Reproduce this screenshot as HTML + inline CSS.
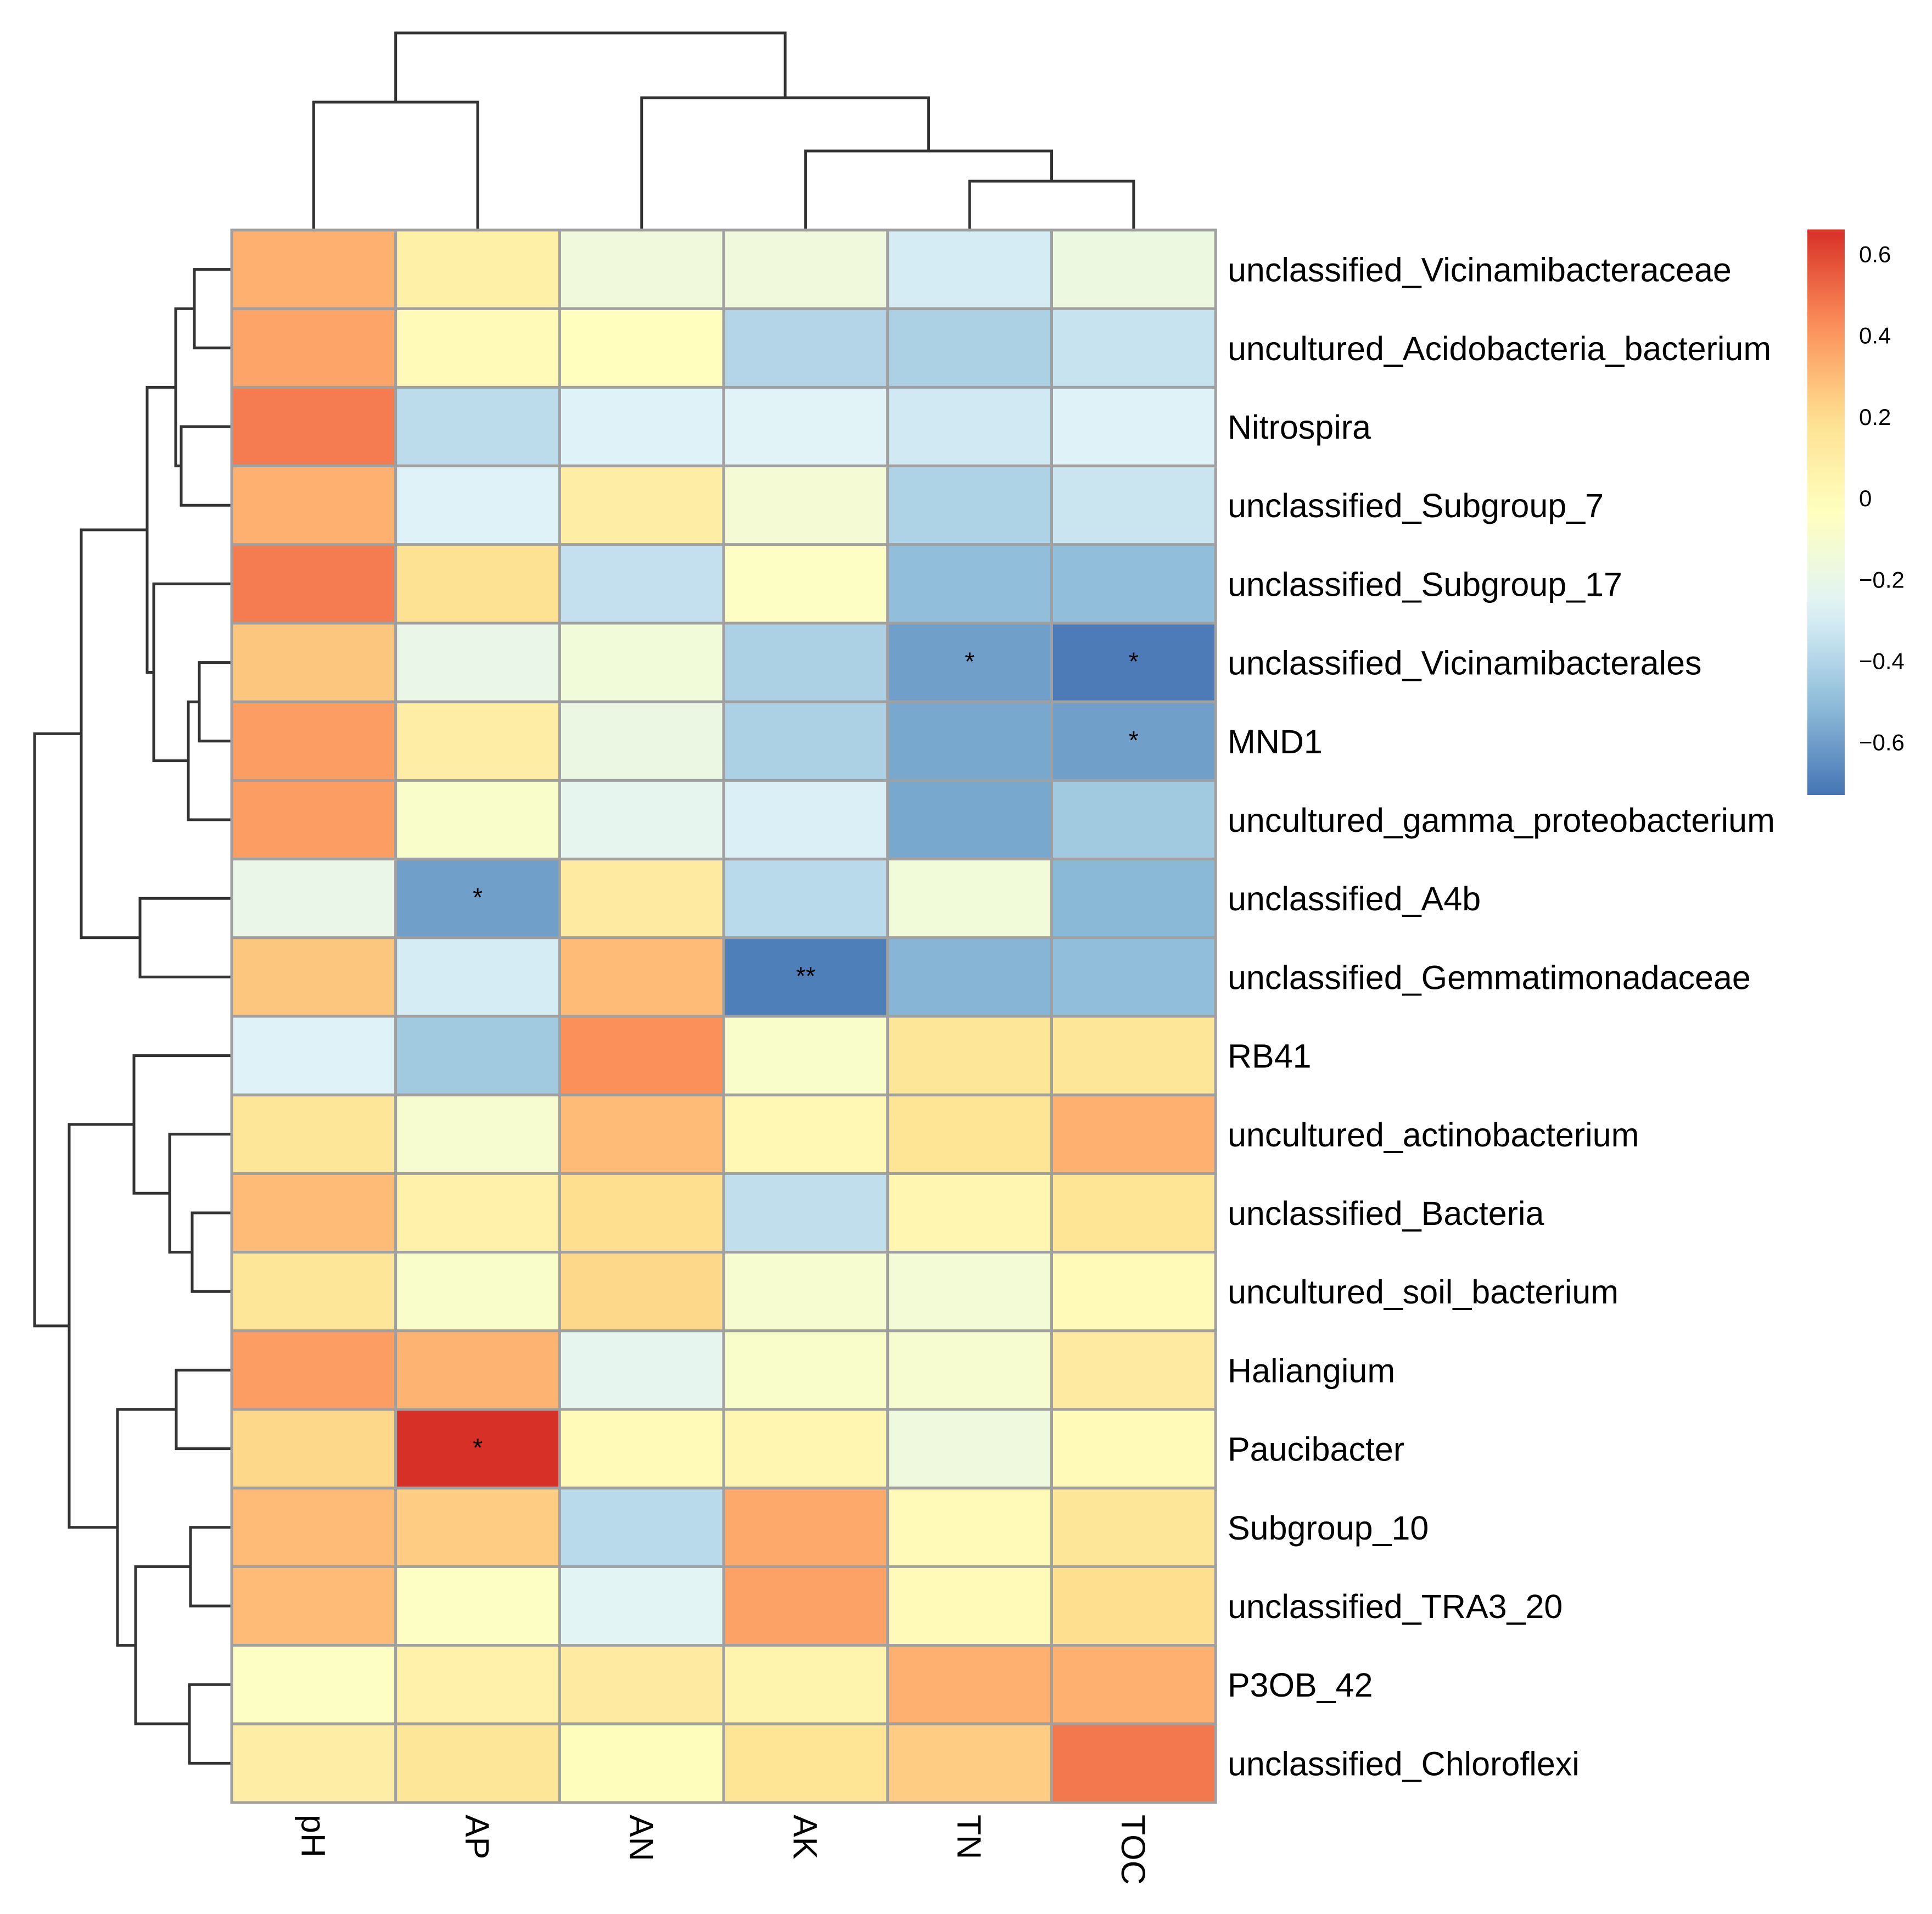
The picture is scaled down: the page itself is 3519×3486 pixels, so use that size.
<!DOCTYPE html>
<html>
<head>
<meta charset="utf-8">
<style>
  html, body { margin: 0; padding: 0; background: #ffffff; }
  svg { display: block; }
  text { font-family: "Liberation Sans", sans-serif; fill: #000; }
</style>
</head>
<body>
<svg id="chart" width="3519" height="3486" viewBox="0 0 3519 3486" xmlns="http://www.w3.org/2000/svg">
  <rect x="0" y="0" width="3519" height="3486" fill="#ffffff"/>
  <g id="col-dendro"></g>
  <g id="row-dendro"></g>
  <g id="cells"></g>
  <g id="stars"></g>
  <g id="row-labels"></g>
  <g id="col-labels"></g>
  <g id="legend"></g>
</svg>
<script>
const columns = ["pH", "AP", "AN", "AK", "TN", "TOC"];
const rows = [
  "unclassified_Vicinamibacteraceae",
  "uncultured_Acidobacteria_bacterium",
  "Nitrospira",
  "unclassified_Subgroup_7",
  "unclassified_Subgroup_17",
  "unclassified_Vicinamibacterales",
  "MND1",
  "uncultured_gamma_proteobacterium",
  "unclassified_A4b",
  "unclassified_Gemmatimonadaceae",
  "RB41",
  "uncultured_actinobacterium",
  "unclassified_Bacteria",
  "uncultured_soil_bacterium",
  "Haliangium",
  "Paucibacter",
  "Subgroup_10",
  "unclassified_TRA3_20",
  "P3OB_42",
  "unclassified_Chloroflexi"
];
const values = [
  [0.33, 0.08, -0.15, -0.15, -0.30, -0.17],
  [0.36, 0.00, -0.03, -0.40, -0.42, -0.34],
  [0.47, -0.37, -0.27, -0.26, -0.31, -0.27],
  [0.33, -0.27, 0.10, -0.12, -0.41, -0.33],
  [0.47, 0.18, -0.35, -0.05, -0.50, -0.50],
  [0.27, -0.20, -0.14, -0.42, -0.60, -0.71],
  [0.38, 0.10, -0.18, -0.42, -0.57, -0.60],
  [0.38, -0.08, -0.22, -0.28, -0.57, -0.45],
  [-0.20, -0.60, 0.12, -0.38, -0.14, -0.52],
  [0.27, -0.30, 0.30, -0.70, -0.53, -0.50],
  [-0.27, -0.45, 0.42, -0.08, 0.15, 0.15],
  [0.15, -0.10, 0.30, 0.02, 0.17, 0.33],
  [0.30, 0.07, 0.20, -0.36, 0.03, 0.17],
  [0.15, -0.08, 0.22, -0.10, -0.13, 0.00],
  [0.38, 0.32, -0.22, -0.08, -0.10, 0.12],
  [0.22, 0.66, 0.00, 0.03, -0.16, 0.00],
  [0.30, 0.25, -0.38, 0.35, 0.00, 0.15],
  [0.30, -0.05, -0.25, 0.37, 0.00, 0.20],
  [-0.05, 0.07, 0.12, 0.05, 0.33, 0.33],
  [0.10, 0.15, -0.02, 0.17, 0.25, 0.48]
];
const stars = [
  [5, 4, "*"], [5, 5, "*"], [6, 5, "*"], [8, 1, "*"], [9, 3, "**"], [15, 1, "*"]
];
const legendTicks = [0.6, 0.4, 0.2, 0, -0.2, -0.4, -0.6];
const legendTickLabels = ["0.6", "0.4", "0.2", "0", "\u22120.2", "\u22120.4", "\u22120.6"];
const colRoot = [[0, 1, 233], [2, [3, [4, 5, 89], 144], 241], 359];
const rowRoot = [
  [
    [[[0, 1, 68], [2, 3, 92], 102], [4, [[5, 6, 59], 7, 79], 142], 154],
    [8, 9, 167], 274
  ],
  [
    [10, [11, [12, 13, 72], 113], 178],
    [[14, 15, 101], [[16, 17, 75], [18, 19, 77], 175], 208],
    296
  ],
  359
];

const NS = "http://www.w3.org/2000/svg";
const X0 = 422, Y0 = 419, CW = 298.7, RH = 143.2;
const vMin = -0.73, vMax = 0.66;
const palette = ["#4575B4", "#91BFDB", "#E0F3F8", "#FFFFBF", "#FEE090", "#FC8D59", "#D73027"];
function xCol(i) { return X0 + i * CW; }
function yRow(j) { return Y0 + j * RH; }
function hex2rgb(h) { return [1, 3, 5].map(k => parseInt(h.substr(k, 2), 16)); }
function color(v) {
  let t = (v - vMin) / (vMax - vMin);
  t = Math.max(0, Math.min(1, t)) * (palette.length - 1);
  const i = Math.min(palette.length - 2, Math.floor(t));
  const f = t - i;
  const a = hex2rgb(palette[i]), b = hex2rgb(palette[i + 1]);
  const c = a.map((x, k) => Math.round(x + (b[k] - x) * f));
  return "rgb(" + c.join(",") + ")";
}
function mk(tag, attrs, parent) {
  const el = document.createElementNS(NS, tag);
  for (const k in attrs) el.setAttribute(k, attrs[k]);
  parent.appendChild(el);
  return el;
}

// cells
const gCells = document.getElementById("cells");
values.forEach((row, j) => row.forEach((v, i) => {
  const r = mk("rect", { x: xCol(i), y: yRow(j), width: CW, height: RH, fill: color(v), stroke: "#A0A0A0", "stroke-width": 5 }, gCells);
  
  
}));

// stars
const gStars = document.getElementById("stars");
stars.forEach(s => {
  const t = mk("text", { x: xCol(s[1]) + CW / 2, y: yRow(s[0]) + RH / 2 + 14, "font-size": 46, "text-anchor": "middle" }, gStars);
  t.textContent = s[2];
  
  
});

// row labels
const gRL = document.getElementById("row-labels");
rows.forEach((name, j) => {
  const t = mk("text", { x: 2236, y: yRow(j) + RH / 2 + 22, "font-size": 61 }, gRL);
  t.textContent = name;
  
  
});

// column labels (rotated 90deg clockwise)
const gCL = document.getElementById("col-labels");
columns.forEach((name, i) => {
  const cx = xCol(i) + CW / 2, y = 3305;
  const t = mk("text", { x: 0, y: 0, "font-size": 61, transform: "translate(" + (cx - 22) + "," + y + ") rotate(90)" }, gCL);
  t.textContent = name;
  
  
});

// dendrograms
function drawTree(node, g, leafPos, heightToPos, vertical) {
  if (typeof node === "number") return [leafPos(node), heightToPos(0)];
  const a = drawTree(node[0], g, leafPos, heightToPos, vertical);
  const b = drawTree(node[1], g, leafPos, heightToPos, vertical);
  const h = heightToPos(node[2]);
  let d;
  if (vertical) {
    d = "M" + a[0] + "," + a[1] + "V" + h + "H" + b[0] + "V" + b[1];
  } else {
    d = "M" + a[1] + "," + a[0] + "H" + h + "V" + b[0] + "H" + b[1];
  }
  const p = mk("path", { d: d, fill: "none", stroke: "#333333", "stroke-width": 5 }, g);
  
  
  return [(a[0] + b[0]) / 2, h];
}
drawTree(colRoot, document.getElementById("col-dendro"), i => xCol(i) + CW / 2, h => Y0 - h, true);
drawTree(rowRoot, document.getElementById("row-dendro"), j => yRow(j) + RH / 2, h => X0 - h, false);

// legend
const gL = document.getElementById("legend");
const LX = 3292, LW = 68, LT = 418, LB = 1448;
const defs = mk("defs", {}, gL);
const grad = mk("linearGradient", { id: "lg", x1: 0, y1: 1, x2: 0, y2: 0 }, defs);
for (let k = 0; k <= 20; k++) {
  const v = vMin + (vMax - vMin) * k / 20;
  mk("stop", { offset: (k / 20), "stop-color": color(v) }, grad);
}
const bar = mk("rect", { x: LX, y: LT, width: LW, height: LB - LT, fill: "url(#lg)" }, gL);


function yLegend(v) { return LB - (v - vMin) / (vMax - vMin) * (LB - LT); }
legendTicks.forEach((v, k) => {
  const t = mk("text", { x: 3386, y: yLegend(v) + 15, "font-size": 42 }, gL);
  t.textContent = legendTickLabels[k];
  
  
});
</script>
</body>
</html>
